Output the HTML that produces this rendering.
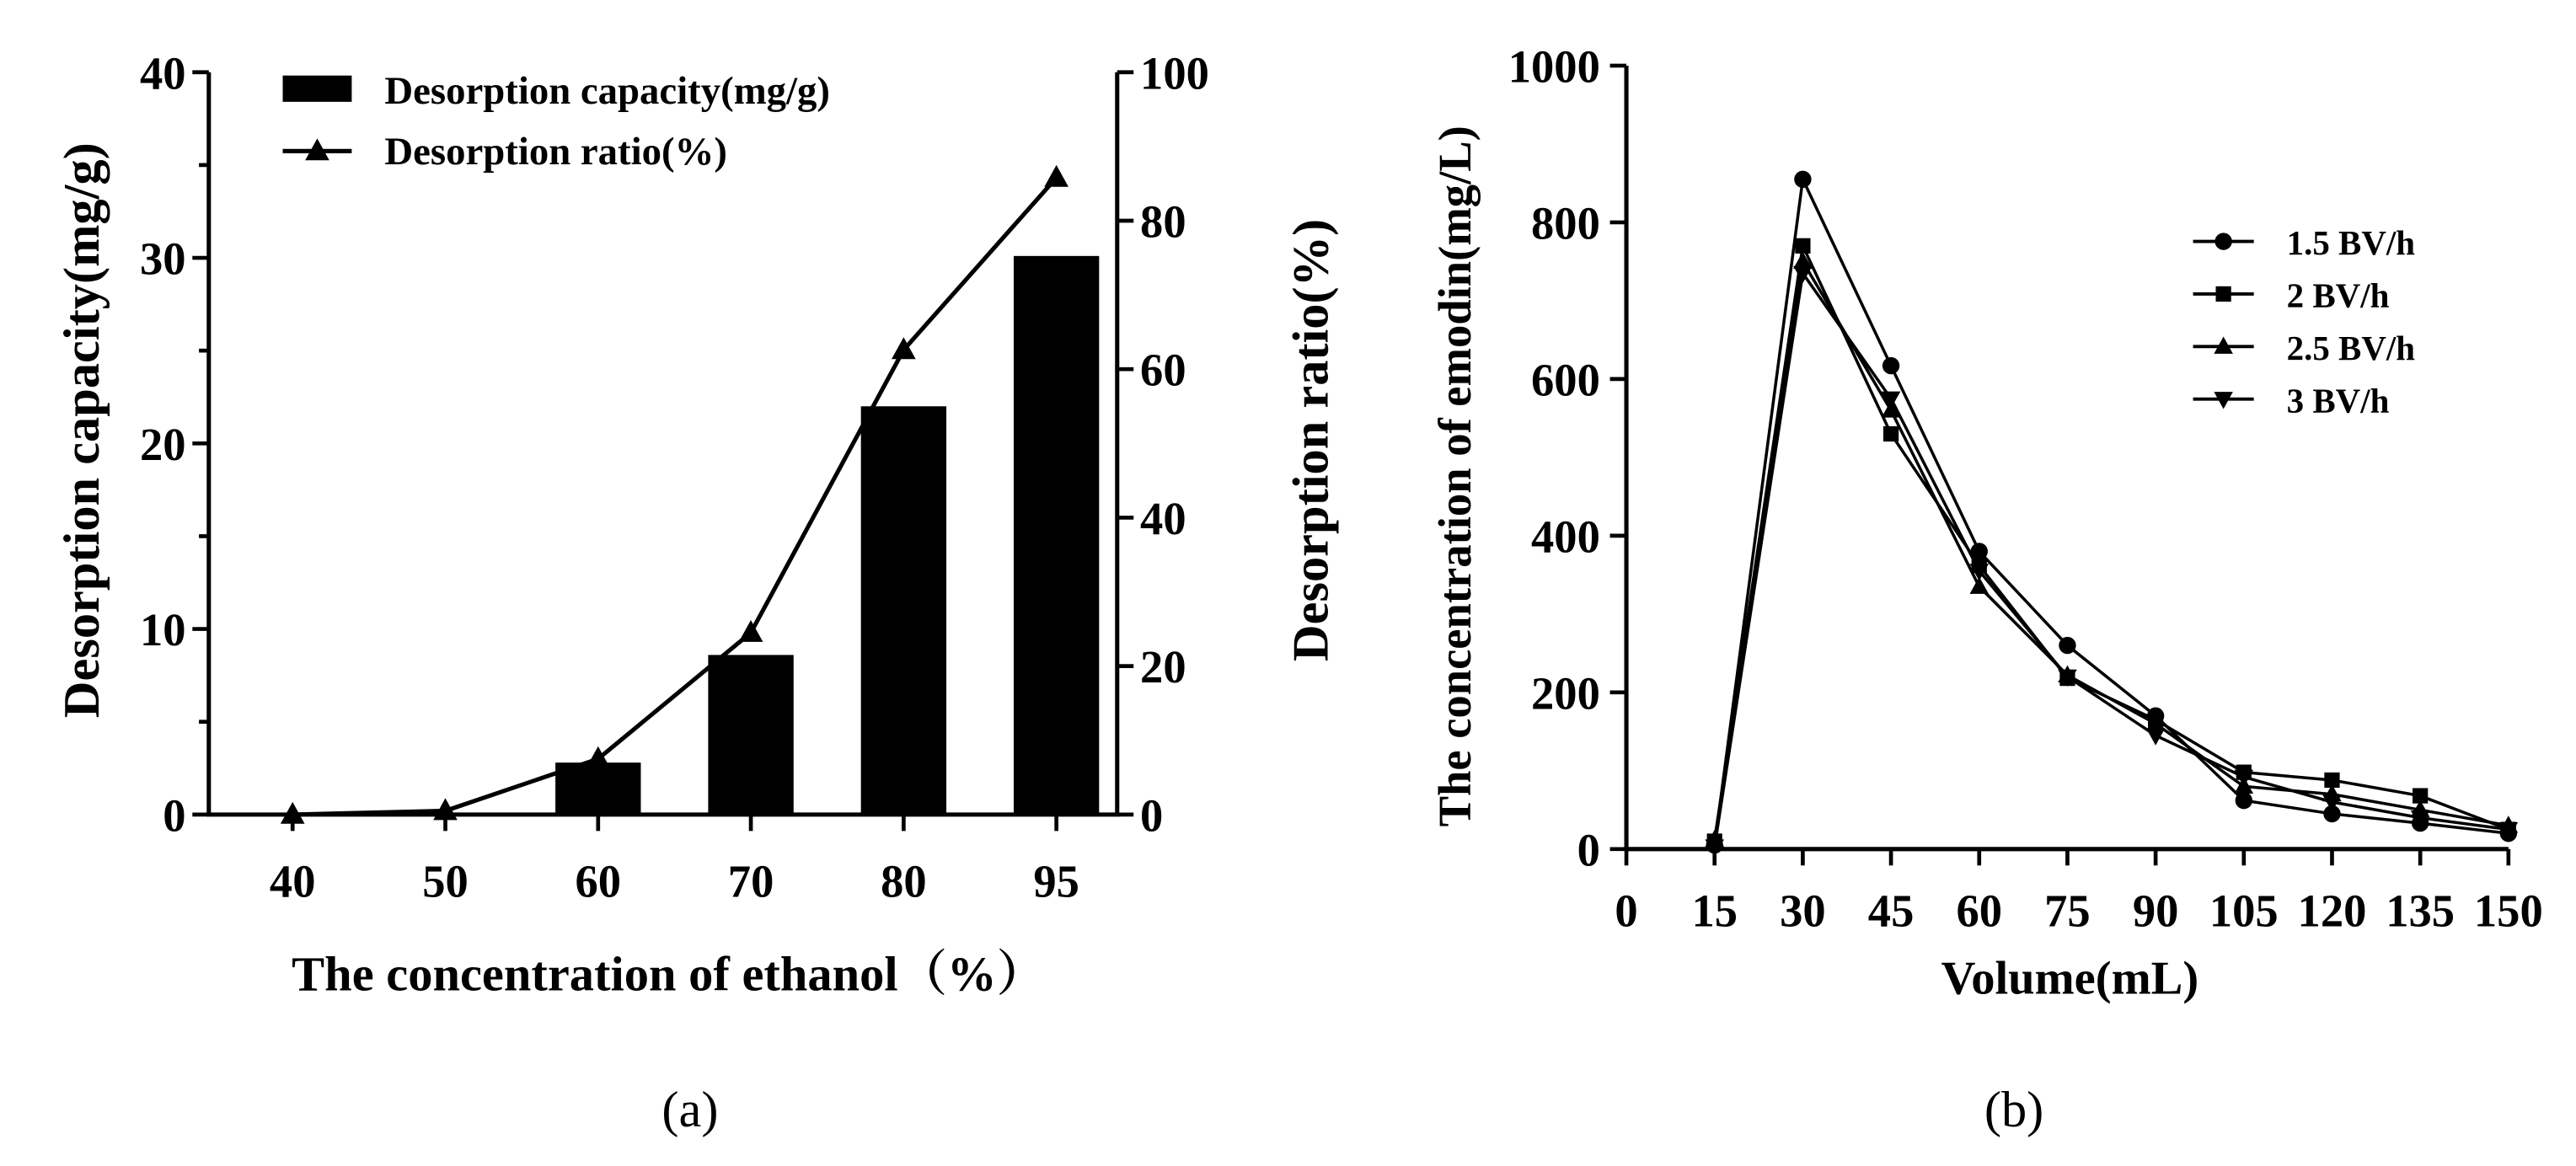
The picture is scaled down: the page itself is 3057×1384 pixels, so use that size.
<!DOCTYPE html>
<html><head><meta charset="utf-8"><style>
html,body{margin:0;padding:0;background:#fff;}
svg{display:block;}
text{font-family:"Liberation Serif","Noto Serif CJK SC",serif;fill:#000;}
.b{font-weight:bold;}
</style></head><body>
<svg id="svg" width="3057" height="1384" viewBox="0 0 1568 710" xmlns="http://www.w3.org/2000/svg">
<g id="ga"></g>
<g id="gb"></g>
<text x="420" y="686" font-size="31" text-anchor="middle">(a)</text>
<text x="1226" y="686" font-size="31" text-anchor="middle">(b)</text>
</svg>
<script>
// Chart A data
const catsA = ["40","50","60","70","80","95"];
const capacity = [0, 0, 2.8, 8.6, 22, 30.1];
const ratio = [0, 0.5, 7.5, 24.5, 62.6, 85.8];
const leftTicksA = [0,10,20,30,40];
const rightTicksA = [0,20,40,60,80,100];
// Chart B data
const volumes = [15,30,45,60,75,90,105,120,135,150];
const xTicksB = [0,15,30,45,60,75,90,105,120,135,150];
const yTicksB = [0,200,400,600,800,1000];
const seriesNames = ["1.5 BV/h","2 BV/h","2.5 BV/h","3 BV/h"];
const s15 = [5,855,617,380,260,170,62,45,33,20];
const s2 = [10,770,530,362,218,165,98,88,68,25];
const s25 = [12,750,560,335,222,160,80,70,50,30];
const s3 = [3,735,575,355,220,145,92,60,40,25];

const NS="http://www.w3.org/2000/svg";
function mk(parent,tag,attrs){const e=document.createElementNS(NS,tag);for(const k in attrs)e.setAttribute(k,attrs[k]);parent.appendChild(e);return e;}
function marker(g,type,x,y,s){
  if(type==="circle") return mk(g,"circle",{cx:x,cy:y,r:s*0.95});
  if(type==="square") return mk(g,"rect",{x:x-s*0.85,y:y-s*0.85,width:s*1.7,height:s*1.7});
  if(type==="up") return mk(g,"polygon",{points:`${x},${y-s*1.1} ${x-s*1.05},${y+s*0.8} ${x+s*1.05},${y+s*0.8}`});
  return mk(g,"polygon",{points:`${x},${y+s*1.1} ${x-s*1.05},${y-s*0.8} ${x+s*1.05},${y-s*0.8}`});
}

// ---------- Chart A ----------
(function(){
const g=document.getElementById('ga');
const L=127,R=680,T=44,B=496;
const xA=i=>178+i*93;
const yL=v=>B-(v/40)*(B-T);
const yR=v=>B-(v/100)*(B-T);
capacity.forEach((v,i)=>{ if(v<=0) return;
  const r=mk(g,"rect",{x:xA(i)-26,y:yL(v),width:52,height:B-yL(v),fill:"#000"});
  
  
});
const ax=mk(g,"path",{d:`M${L},${T} V${B} H${R} V${T}`,stroke:"#000","stroke-width":2.6,fill:"none"});

for(let v=0;v<=40;v+=5){const y=yL(v);mk(g,"line",{x1:L-(v%10?6:10),x2:L,y1:y,y2:y,stroke:"#000","stroke-width":2.4});}
leftTicksA.forEach(v=>{const t=mk(g,"text",{x:L-14,y:yL(v)+10,"font-size":28,"text-anchor":"end",class:"b"});t.textContent=v;
  });
rightTicksA.forEach(v=>{const y=yR(v);mk(g,"line",{x1:R,x2:R+10,y1:y,y2:y,stroke:"#000","stroke-width":2.4});
  const t=mk(g,"text",{x:R+14,y:y+10,"font-size":28,"text-anchor":"start",class:"b"});t.textContent=v;
  });
catsA.forEach((c,i)=>{mk(g,"line",{x1:xA(i),x2:xA(i),y1:B,y2:B+10,stroke:"#000","stroke-width":2.4});
  const t=mk(g,"text",{x:xA(i),y:B+50,"font-size":28,"text-anchor":"middle",class:"b"});t.textContent=c;
  });
const pl=mk(g,"polyline",{points:ratio.map((v,i)=>xA(i)+","+yR(v)).join(" "),fill:"none",stroke:"#000","stroke-width":2.6});

ratio.forEach((v,i)=>{const m=marker(g,"up",xA(i),yR(v),7);});
let t=mk(g,"text",{x:407,y:603,"font-size":30,"text-anchor":"middle",class:"b"});t.textContent="The concentration of ethanol（%）";

t=mk(g,"text",{x:0,y:0,"font-size":31,"text-anchor":"middle",class:"b",transform:"translate(60,262) rotate(-90)"});t.textContent="Desorption capacity(mg/g)";

t=mk(g,"text",{x:0,y:0,"font-size":31,"text-anchor":"middle",class:"b",transform:"translate(808,268) rotate(-90)"});t.textContent="Desorption ratio(%)";

// legend
const lg=mk(g,"g",{});
mk(lg,"rect",{x:172,y:46,width:42,height:16});
t=mk(lg,"text",{x:234,y:63,"font-size":24,class:"b"});t.textContent="Desorption capacity(mg/g)";
mk(lg,"line",{x1:172,x2:214,y1:92,y2:92,stroke:"#000","stroke-width":2.6});
marker(lg,"up",193,92,7);
t=mk(lg,"text",{x:234,y:100,"font-size":24,class:"b"});t.textContent="Desorption ratio(%)";
})();

// ---------- Chart B ----------
(function(){
const g=document.getElementById('gb');
const L=990,R=1527,T=40,B=517;
const xB=v=>L+(v/150)*(R-L);
const yB=v=>B-(v/1000)*(B-T);
const ax=mk(g,"path",{d:`M${L},${T} V${B} H${R}`,stroke:"#000","stroke-width":2.6,fill:"none"});

yTicksB.forEach(v=>{mk(g,"line",{x1:L-10,x2:L,y1:yB(v),y2:yB(v),stroke:"#000","stroke-width":2.4});
  const t=mk(g,"text",{x:L-16,y:yB(v)+10,"font-size":28,"text-anchor":"end",class:"b"});t.textContent=v;
  });
xTicksB.forEach(v=>{mk(g,"line",{x1:xB(v),x2:xB(v),y1:B,y2:B+10,stroke:"#000","stroke-width":2.4});
  const t=mk(g,"text",{x:xB(v),y:B+47,"font-size":28,"text-anchor":"middle",class:"b"});t.textContent=v;
  });
const all=[s15,s2,s25,s3],types=["circle","square","up","down"];
all.forEach((s,k)=>{
  const pl=mk(g,"polyline",{points:s.map((v,i)=>xB(volumes[i])+","+yB(v)).join(" "),fill:"none",stroke:"#000","stroke-width":1.8});
  
  s.forEach((v,i)=>{const m=marker(g,types[k],xB(volumes[i]),yB(v),5.5);});
});
let t=mk(g,"text",{x:1260,y:605,"font-size":29,"text-anchor":"middle",class:"b"});t.textContent="Volume(mL)";

t=mk(g,"text",{x:0,y:0,"font-size":28,"text-anchor":"middle",class:"b",transform:"translate(895,290) rotate(-90)"});t.textContent="The concentration of emodin(mg/L)";

seriesNames.forEach((n,k)=>{
  const y=147+k*32;
  const lg=mk(g,"g",{});
  mk(lg,"line",{x1:1335,x2:1372,y1:y,y2:y,stroke:"#000","stroke-width":2});
  marker(lg,types[k],1353.5,y,5.5);
  const tt=mk(lg,"text",{x:1392,y:y+8,"font-size":21,class:"b"});tt.textContent=n;
});
})();
</script>
</body></html>
